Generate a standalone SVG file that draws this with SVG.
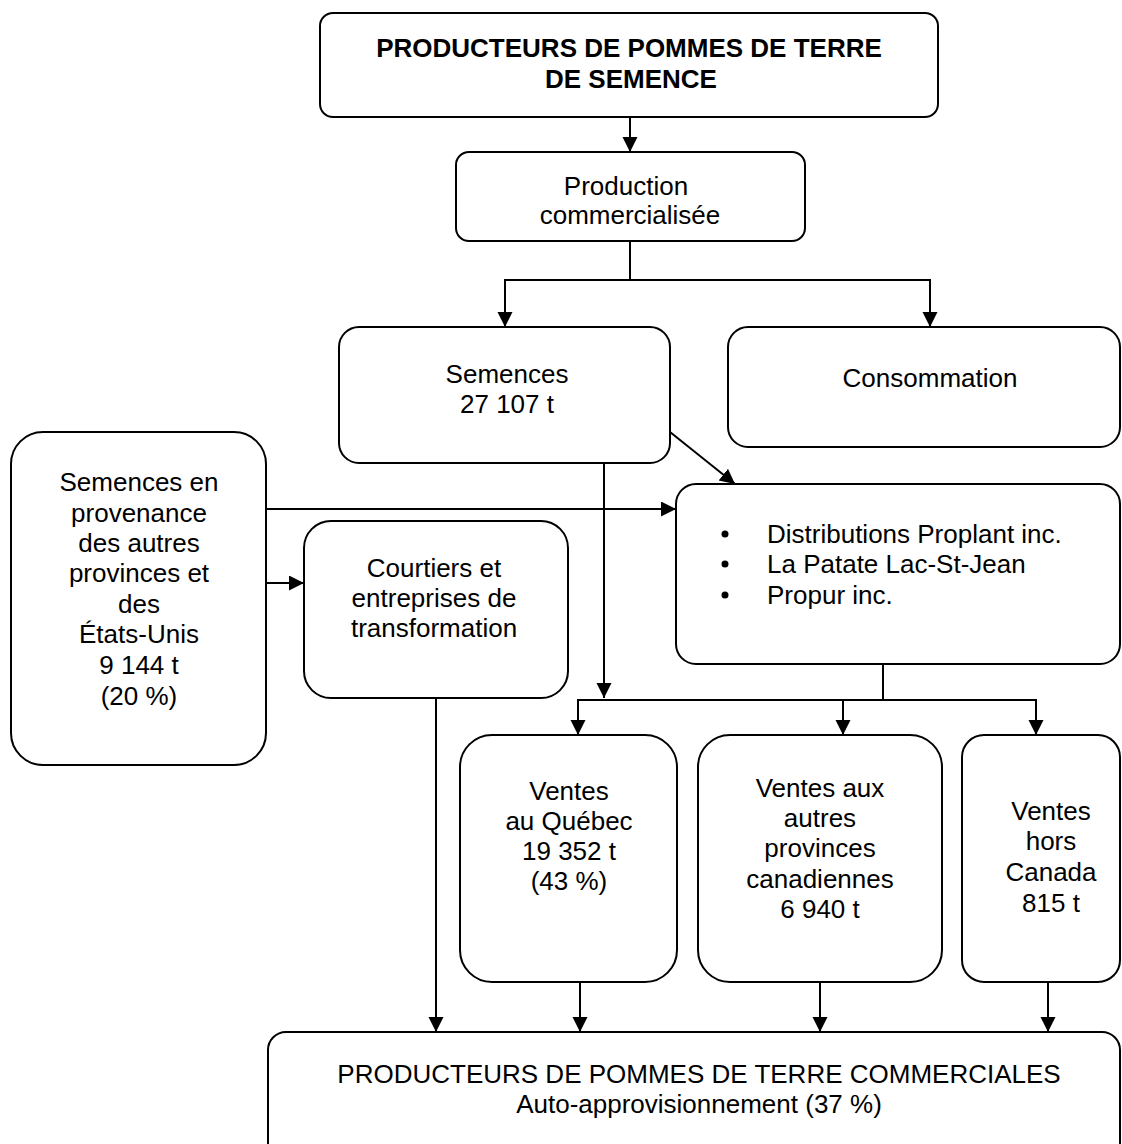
<svg xmlns="http://www.w3.org/2000/svg" width="1122" height="1144" viewBox="0 0 1122 1144">
<style>
  .box { fill: #ffffff; stroke: #000000; stroke-width: 2; }
  .t { font-family: "Liberation Sans", Arial, sans-serif; font-size: 26px; fill: #000000; text-anchor: middle; }
  .tl { font-family: "Liberation Sans", Arial, sans-serif; font-size: 26px; fill: #000000; text-anchor: start; }
  .b { font-weight: bold; }
  .c { fill: none; stroke: #000000; stroke-width: 2; }
</style>
<defs>
  <marker id="arr" markerUnits="userSpaceOnUse" markerWidth="17" markerHeight="16" refX="15" refY="7.5" orient="auto">
    <path d="M0,0 L15,7.5 L0,15 z" fill="#000000"/>
  </marker>
</defs>
<rect width="1122" height="1144" fill="#ffffff"/>

<g id="connectors">
  <path class="c" d="M630,117 V152" marker-end="url(#arr)"/>
  <path class="c" d="M630,241 V280 H505 V327" marker-end="url(#arr)"/>
  <path class="c" d="M630,280 H930 V327" marker-end="url(#arr)"/>
  <path class="c" d="M670,432 L735,484" marker-end="url(#arr)"/>
  <path class="c" d="M266,509 H676" marker-end="url(#arr)"/>
  <path class="c" d="M266,583 H304" marker-end="url(#arr)"/>
  <path class="c" d="M604,463 V698" marker-end="url(#arr)"/>
  <path class="c" d="M883,664 V700"/>
  <path class="c" d="M883,700 H578 V735" marker-end="url(#arr)"/>
  <path class="c" d="M843,700 V735" marker-end="url(#arr)"/>
  <path class="c" d="M883,700 H1036 V735" marker-end="url(#arr)"/>
  <path class="c" d="M436,698 V1032" marker-end="url(#arr)"/>
  <path class="c" d="M580,982 V1032" marker-end="url(#arr)"/>
  <path class="c" d="M820,982 V1032" marker-end="url(#arr)"/>
  <path class="c" d="M1048,982 V1032" marker-end="url(#arr)"/>
</g>

<g id="producteurs-semence">
  <rect class="box" x="320" y="13" width="618" height="104" rx="13"/>
  <text class="t b" x="629" y="57">PRODUCTEURS DE POMMES DE TERRE</text>
  <text class="t b" x="631" y="88">DE SEMENCE</text>
</g>

<g id="production">
  <rect class="box" x="456" y="152" width="349" height="89" rx="13"/>
  <text class="t" x="626" y="195">Production</text>
  <text class="t" x="630" y="224">commercialisée</text>
</g>

<g id="semences">
  <rect class="box" x="339" y="327" width="331" height="136" rx="20"/>
  <text class="t" x="507" y="383">Semences</text>
  <text class="t" x="507" y="413">27 107 t</text>
</g>

<g id="consommation">
  <rect class="box" x="728" y="327" width="392" height="120" rx="20"/>
  <text class="t" x="930" y="387">Consommation</text>
</g>

<g id="semences-importees">
  <rect class="box" x="11" y="432" width="255" height="333" rx="32"/>
  <text class="t" x="139" y="491">Semences en</text>
  <text class="t" x="139" y="522">provenance</text>
  <text class="t" x="139" y="552">des autres</text>
  <text class="t" x="139" y="582">provinces et</text>
  <text class="t" x="139" y="613">des</text>
  <text class="t" x="139" y="643">États-Unis</text>
  <text class="t" x="139" y="674">9 144 t</text>
  <text class="t" x="139" y="705">(20 %)</text>
</g>

<g id="courtiers">
  <rect class="box" x="304" y="521" width="264" height="177" rx="27"/>
  <text class="t" x="434" y="577">Courtiers et</text>
  <text class="t" x="434" y="607">entreprises de</text>
  <text class="t" x="434" y="637">transformation</text>
</g>

<g id="distributeurs">
  <rect class="box" x="676" y="484" width="444" height="180" rx="20"/>
  <circle cx="725" cy="534" r="3.5" fill="#000000"/>
  <circle cx="725" cy="564" r="3.5" fill="#000000"/>
  <circle cx="725" cy="595" r="3.5" fill="#000000"/>
  <text class="tl" x="767" y="543">Distributions Proplant inc.</text>
  <text class="tl" x="767" y="573">La Patate Lac-St-Jean</text>
  <text class="tl" x="767" y="604">Propur inc.</text>
</g>

<g id="ventes-quebec">
  <rect class="box" x="460" y="735" width="217" height="247" rx="32"/>
  <text class="t" x="569" y="800">Ventes</text>
  <text class="t" x="569" y="830">au Québec</text>
  <text class="t" x="569" y="860">19 352 t</text>
  <text class="t" x="569" y="890">(43 %)</text>
</g>

<g id="ventes-provinces">
  <rect class="box" x="698" y="735" width="244" height="247" rx="32"/>
  <text class="t" x="820" y="797">Ventes aux</text>
  <text class="t" x="820" y="827">autres</text>
  <text class="t" x="820" y="857">provinces</text>
  <text class="t" x="820" y="888">canadiennes</text>
  <text class="t" x="820" y="918">6 940 t</text>
</g>

<g id="ventes-hors-canada">
  <rect class="box" x="962" y="735" width="158" height="247" rx="22"/>
  <text class="t" x="1051" y="820">Ventes</text>
  <text class="t" x="1051" y="850">hors</text>
  <text class="t" x="1051" y="881">Canada</text>
  <text class="t" x="1051" y="912">815 t</text>
</g>

<g id="producteurs-commerciaux">
  <rect class="box" x="268" y="1032" width="852" height="140" rx="18"/>
  <text class="t" x="699" y="1083">PRODUCTEURS DE POMMES DE TERRE COMMERCIALES</text>
  <text class="t" x="699" y="1113">Auto-approvisionnement (37 %)</text>
</g>
</svg>
